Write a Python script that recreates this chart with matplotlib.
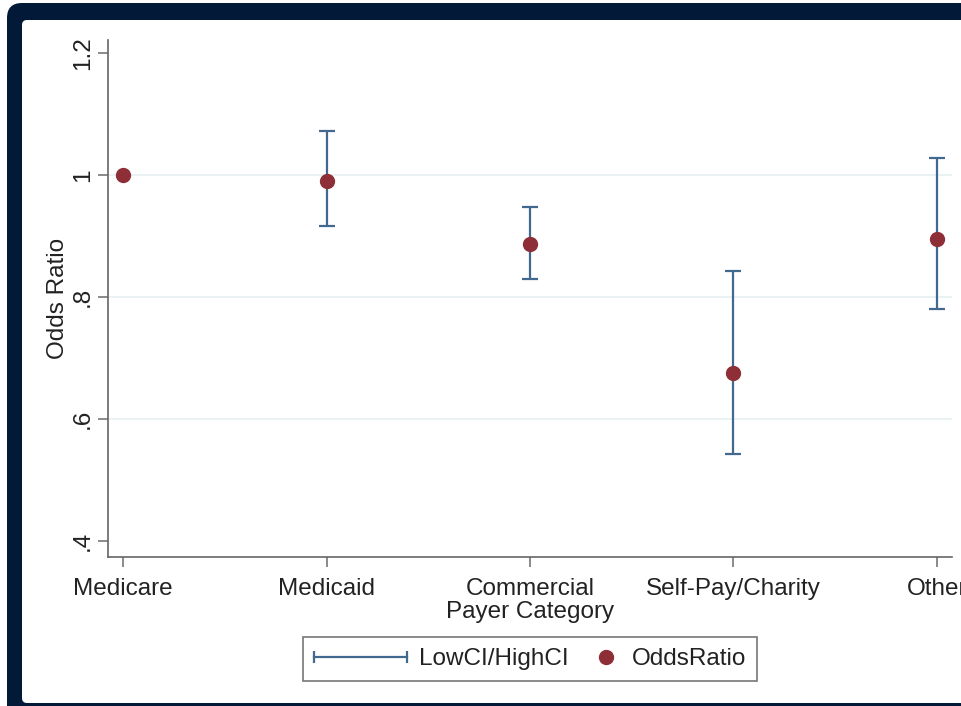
import numpy as np
import matplotlib
matplotlib.use("Agg")
import matplotlib.pyplot as plt
from matplotlib.patches import FancyBboxPatch, Rectangle
from matplotlib.lines import Line2D
from matplotlib.legend_handler import HandlerLine2D, HandlerBase
from matplotlib.transforms import IdentityTransform

plt.rcParams['font.family'] = ['Liberation Sans', 'DejaVu Sans']

# odds ratios by payer (Medicare is the reference group, no CI)
categories = ["Medicare", "Medicaid", "Commercial", "Self-Pay/Charity", "Other"]
odds_ratio = [1.000, 0.990, 0.887, 0.675, 0.895]
low_ci = [np.nan, 0.916, 0.830, 0.543, 0.780]
high_ci = [np.nan, 1.072, 0.948, 0.842, 1.028]
ytick_vals = [0.4, 0.6, 0.8, 1.0, 1.2]
ytick_labels = [".4", ".6", ".8", "1", "1.2"]

W, H = 962, 706
FS = 17.5
fig = plt.figure(figsize=(W / 100, H / 100), dpi=100, facecolor="white")

# dark frame, pixel coordinates; only the top-left corner is rounded
navy = "#021a38"
px = IdentityTransform()
fig.add_artist(FancyBboxPatch((7, -60), 200, H - 3 + 60,
                              boxstyle="round,pad=0,rounding_size=15",
                              transform=px, facecolor=navy,
                              edgecolor="none", zorder=-10))
fig.add_artist(Rectangle((100, H - 20), W, 17, transform=px,
                         facecolor=navy, edgecolor="none", zorder=-10))
fig.add_artist(Rectangle((7, 0), W, 4, transform=px,
                         facecolor=navy, edgecolor="none", zorder=-10))
fig.add_artist(FancyBboxPatch((22, 3), 200, H - 23,
                              boxstyle="round,pad=0,rounding_size=5",
                              transform=px, facecolor="white",
                              edgecolor="none", zorder=-9))
fig.add_artist(Rectangle((150, 3), W, H - 23, transform=px,
                         facecolor="white", edgecolor="none", zorder=-9))

ax = fig.add_axes([108 / W, 1 - 557 / H, (952 - 108) / W, (557 - 40) / H])
ax.patch.set_alpha(0)

x = np.arange(len(categories))
odds = np.array(odds_ratio)
lo = np.array(low_ci)
hi = np.array(high_ci)
has_ci = ~np.isnan(lo)

ci_color = "#41698f"
pt_color = "#8e2f37"

ax.errorbar(x[has_ci], odds[has_ci],
            yerr=[odds[has_ci] - lo[has_ci], hi[has_ci] - odds[has_ci]],
            fmt="none", ecolor=ci_color, elinewidth=1.6, capsize=6,
            capthick=1.6, zorder=2)
ax.plot(x, odds, "o", color=pt_color, markersize=10, zorder=3)

ax.set_xlim(-0.074, len(categories) - 1 + 0.074)
ax.set_ylim(0.374, 1.221)

# horizontal grid at inner ticks
for v in ytick_vals[1:-1]:
    ax.axhline(v, color="#e7f0f2", linewidth=1.2, zorder=0)

ax.set_yticks(ytick_vals)
ax.set_yticklabels(ytick_labels, rotation=90, va="center", fontsize=FS,
                   color="#222222")
ax.set_xticks(x)
ax.set_xticklabels(categories, fontsize=FS, color="#222222")
ax.tick_params(axis="both", length=7, width=1.2, color="#777777")
ax.tick_params(axis="y", pad=3)
ax.tick_params(axis="x", pad=8)

for s in ["top", "right"]:
    ax.spines[s].set_visible(False)
for s in ["left", "bottom"]:
    ax.spines[s].set_color("#666666")
    ax.spines[s].set_linewidth(1.2)

ax.set_ylabel("Odds Ratio", fontsize=FS, color="#222222", labelpad=2)
ax.set_xlabel("Payer Category", fontsize=FS, color="#222222", labelpad=1)


class DotRightHandler(HandlerBase):
    """Puts the marker near the right end of the handle box."""

    def create_artists(self, legend, orig_handle, xdescent, ydescent,
                       width, height, fontsize, trans):
        xc = -xdescent + width - 0.55 * fontsize
        yc = -ydescent + height / 2
        dot = Line2D([xc], [yc], marker="o", linestyle="none",
                     color=orig_handle.get_color(),
                     markersize=orig_handle.get_markersize())
        dot.set_transform(trans)
        return [dot]


ci_handle = Line2D([0, 1], [0, 0], color=ci_color, linewidth=1.6,
                   marker="|", markersize=9, markeredgewidth=1.6)
pt_handle = Line2D([], [], color=pt_color, marker="o", linestyle="none",
                   markersize=10)
leg = ax.legend([ci_handle, pt_handle], ["LowCI/HighCI", "OddsRatio"],
                handler_map={ci_handle: HandlerLine2D(numpoints=2, marker_pad=0),
                             pt_handle: DotRightHandler()},
                loc="center", bbox_to_anchor=(530 / W, 1 - 659 / H),
                bbox_transform=fig.transFigure, ncol=2, fontsize=FS,
                frameon=True, fancybox=False, edgecolor="#555555",
                handlelength=3.8, handletextpad=0.5, columnspacing=-1.7,
                borderpad=0.45, numpoints=1)
leg.get_frame().set_linewidth(1.2)
for t in leg.get_texts():
    t.set_color("#222222")

fig.savefig("out.png", dpi=100)
